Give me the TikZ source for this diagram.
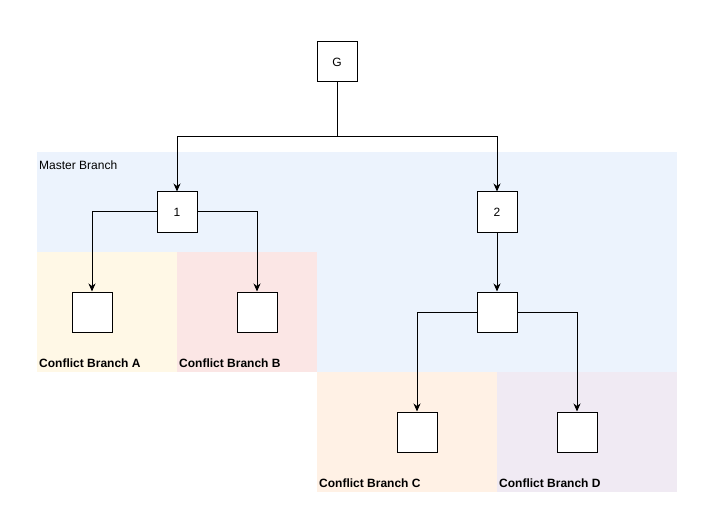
\documentclass[tikz,border=0pt]{standalone}
\usepackage{fontspec}
\setmainfont{Liberation Sans}
\usetikzlibrary{arrows.meta}
\definecolor{mblue}{HTML}{ECF3FD}
\definecolor{myellow}{HTML}{FFF8E6}
\definecolor{mpink}{HTML}{FBE6E5}
\definecolor{morange}{HTML}{FFF1E5}
\definecolor{mpurple}{HTML}{F0EAF3}
\tikzset{
  region/.style={draw=none,inner sep=0pt,outer sep=0pt,anchor=north west},
  box/.style={draw=black,line width=1pt,fill=white,minimum width=40pt,minimum height=40pt,inner sep=0pt,font=\fontsize{12}{14}\selectfont},
  lbl/.style={anchor=west,inner sep=0pt,font=\fontsize{12}{14}\selectfont},
  blbl/.style={lbl,font=\fontsize{12}{14}\selectfont\bfseries},
  arr/.style={draw=black,line width=1pt,-{Stealth[length=8pt,width=7pt,inset=2.5pt]}},
  ln/.style={draw=black,line width=1pt}
}
\begin{document}
\begin{tikzpicture}[x=1pt,y=-1pt]
\useasboundingbox (0,0) rectangle (711,521);
% regions
\node[region,fill=mblue,minimum width=640pt,minimum height=220pt] (rm) at (37,152) {};
\node[region,fill=myellow,minimum width=140pt,minimum height=120pt] (ra) at (37,252) {};
\node[region,fill=mpink,minimum width=140pt,minimum height=120pt] (rb) at (177,252) {};
\node[region,fill=morange,minimum width=180pt,minimum height=120pt] (rc) at (317,372) {};
\node[region,fill=mpurple,minimum width=180pt,minimum height=120pt] (rd) at (497,372) {};
% labels
\node[lbl] (lm) at (39,165.5) {Master Branch};
\node[blbl] (la) at (39,363) {Conflict Branch A};
\node[blbl] (lb) at (179,363) {Conflict Branch B};
\node[blbl] (lc) at (319,483) {Conflict Branch C};
\node[blbl] (ld) at (499,483) {Conflict Branch D};
% boxes
\node[box] (G) at (337,62) {G};
\node[box] (n1) at (177,212) {1};
\node[box] (n2) at (497,212) {2};
\node[box] (a) at (92,312) {};
\node[box] (b) at (257,312) {};
\node[box] (m) at (497,312) {};
\node[box] (c) at (417,432) {};
\node[box] (d) at (577,432) {};
% connectors
\coordinate (j) at (337,137);
\draw[ln] (G.south) -- (j);
\draw[arr] (j) -| (n1.north);
\draw[arr] (j) -| (n2.north);
\draw[arr] (n1.west) -| (a.north);
\draw[arr] (n1.east) -| (b.north);
\draw[arr] (n2.south) -- (m.north);
\draw[arr] (m.west) -| (c.north);
\draw[arr] (m.east) -| (d.north);
\end{tikzpicture}
\end{document}
